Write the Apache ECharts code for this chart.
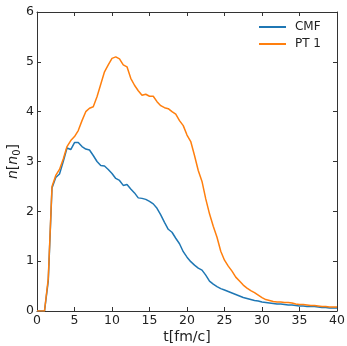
<!DOCTYPE html>
<html><head><meta charset="utf-8">
<script src="https://cdn.jsdelivr.net/npm/echarts@6/dist/echarts.min.js"></script>
<style>html,body{margin:0;padding:0;background:#fff}#c{width:347px;height:346px}</style>
</head><body><div id="c"></div>
<script>
var t = [];
for (var i = 0; i <= 80; i++) t.push(i * 0.5);
var cmf = [0,0,0,0.6,2.47,2.68,2.75,3.0,3.27,3.24,3.38,3.38,3.3,3.25,3.23,3.12,3.0,2.92,2.91,2.84,2.76,2.66,2.62,2.52,2.54,2.45,2.37,2.27,2.26,2.24,2.2,2.15,2.06,1.93,1.78,1.64,1.58,1.46,1.35,1.19,1.08,0.99,0.92,0.86,0.82,0.72,0.6,0.54,0.49,0.45,0.42,0.39,0.36,0.33,0.3,0.27,0.25,0.23,0.21,0.2,0.18,0.17,0.16,0.15,0.14,0.14,0.13,0.12,0.12,0.11,0.1,0.1,0.09,0.09,0.09,0.08,0.07,0.07,0.06,0.06,0.06];
var pt1 = [0,0,0,0.65,2.5,2.72,2.84,3.05,3.3,3.42,3.5,3.62,3.82,4.0,4.07,4.1,4.3,4.55,4.8,4.94,5.07,5.1,5.06,4.94,4.9,4.67,4.53,4.42,4.33,4.35,4.31,4.31,4.2,4.12,4.08,4.06,4.0,3.95,3.82,3.72,3.53,3.4,3.12,2.82,2.6,2.25,1.95,1.7,1.48,1.2,1.02,0.9,0.8,0.68,0.6,0.52,0.46,0.41,0.37,0.32,0.27,0.23,0.21,0.19,0.18,0.18,0.17,0.17,0.16,0.14,0.13,0.13,0.12,0.11,0.11,0.1,0.09,0.09,0.08,0.08,0.08];
var names = ['CMF', 'PT 1'];
var colors = ['#1f77b4', '#ff7f0e'];
function pairs(v){ return t.map(function(x,i){ return [x, v[i]]; }); }
var font = 'DejaVu Sans';
var axisLineStyle = {color:'#333', width:1};
var tick = {show:true, inside:true, length:4, lineStyle:{color:'#333'}};
var chart = echarts.init(document.getElementById('c'), null, {renderer:'canvas'});
chart.setOption({
  animation: false,
  textStyle: {fontFamily: font},
  grid: {left:37, right:10, top:12, bottom:35, containLabel:false, outerBoundsMode:'none'},
  legend: {
    top: 16, right: 21, orient: 'vertical', itemGap: 5,
    itemWidth: 27, itemHeight: 14, icon: 'path://M0,6 L27,6 L27,8 L0,8 Z',
    textStyle: {fontFamily: font, fontSize: 12, color:'#222', padding:[0,0,0,4]},
    data: names
  },
  xAxis: [{
    type:'value', min:0, max:40, interval:5,
    name:'t[fm/c]', nameLocation:'middle', nameGap:19, nameMoveOverlap:false,
    nameTextStyle:{fontFamily:font, fontSize:14, color:'#222'},
    axisLine:{show:true, onZero:false, lineStyle:axisLineStyle},
    axisTick:tick,
    axisLabel:{fontFamily:font, fontSize:12.5, color:'#222', margin:3},
    splitLine:{show:false}
  },{
    type:'value', min:0, max:40, interval:5, position:'top',
    axisLine:{show:true, onZero:false, lineStyle:axisLineStyle},
    axisTick:tick,
    axisLabel:{show:false}, splitLine:{show:false}
  }],
  yAxis: [{
    type:'value', min:0, max:6, interval:1,
    name:'{i|n}[{i|n}{s|0}]', nameLocation:'middle', nameGap:15, nameRotate:90, nameMoveOverlap:false,
    nameTextStyle:{fontFamily:font, fontSize:14, color:'#222',
      rich:{i:{fontFamily:font, fontStyle:'italic', fontSize:14, color:'#222'},
            s:{fontFamily:font, fontSize:10, color:'#222', verticalAlign:'bottom', padding:[7,0,0,0]}}},
    axisLine:{show:true, onZero:false, lineStyle:axisLineStyle},
    axisTick:tick,
    axisLabel:{fontFamily:font, fontSize:12.5, color:'#222', margin:3},
    splitLine:{show:false}
  },{
    type:'value', min:0, max:6, interval:1, position:'right',
    axisLine:{show:true, onZero:false, lineStyle:axisLineStyle},
    axisTick:tick,
    axisLabel:{show:false}, splitLine:{show:false}
  }],
  series: [
    {name:names[0], type:'line', data:pairs(cmf), showSymbol:false, symbol:'none',
     lineStyle:{color:colors[0], width:1.5}, itemStyle:{color:colors[0]}},
    {name:names[1], type:'line', data:pairs(pt1), showSymbol:false, symbol:'none',
     lineStyle:{color:colors[1], width:1.5}, itemStyle:{color:colors[1]}}
  ]
});
</script></body></html>
